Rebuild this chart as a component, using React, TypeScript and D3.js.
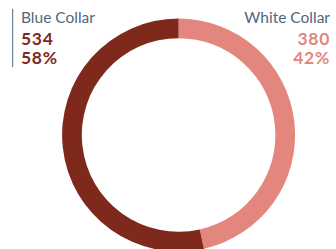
import React from "react";
import * as d3 from "d3";

const categories = ["Blue Collar", "White Collar"];
const counts = [534, 380];
const percentLabels = ["58%", "42%"];
// arc shares as they appear in the picture (white arc ends ~167° clockwise from top)
const arcShares = [53.5, 46.5];
const colors = ["#7f291c", "#e3877e"];

const W = 336;
const H = 249;

export default function App() {
  const cx = 178.6;
  const cy = 135;
  const outerR = 116.5;
  const innerR = 96.8;

  const order = [1, 0];
  const pie = d3
    .pie<number>()
    .sort(null)
    .value((i) => arcShares[i])
    .startAngle(0)
    .endAngle(2 * Math.PI);
  const arcs = pie(order);
  const arcGen = d3.arc<d3.PieArcDatum<number>>().innerRadius(innerR).outerRadius(outerR);

  const labelColor = "#52677f";
  const font = "Lato, 'Open Sans', sans-serif";

  return (
    <svg
      width={W}
      height={H}
      style={{ position: "absolute", left: 0, top: 0, display: "block" }}
    >
      <g transform={`translate(${cx},${cy})`}>
        {arcs.map((a) => (
          <path key={a.data} d={arcGen(a) || ""} fill={colors[a.data]} />
        ))}
      </g>
      <line x1={12.7} x2={12.7} y1={9} y2={67} stroke={labelColor} strokeWidth={1} />
      <g fontFamily={font}>
        <text x={21} y={23} fontSize={15.5} fill={labelColor}>
          {categories[0]}
        </text>
        <text x={21} y={45} fontSize={17.5} fontWeight={700} fill={colors[0]} letterSpacing={0.7}>
          {counts[0]}
        </text>
        <text x={21} y={64} fontSize={17.5} fontWeight={700} fill={colors[0]} letterSpacing={0.7}>
          {percentLabels[0]}
        </text>
        <text x={330} y={23} fontSize={15.5} fill={labelColor} textAnchor="end">
          {categories[1]}
        </text>
        <text x={330} y={45} fontSize={17.5} fontWeight={700} fill={colors[1]} textAnchor="end" letterSpacing={0.7}>
          {counts[1]}
        </text>
        <text x={330} y={64} fontSize={17.5} fontWeight={700} fill={colors[1]} textAnchor="end" letterSpacing={0.7}>
          {percentLabels[1]}
        </text>
      </g>
    </svg>
  );
}
